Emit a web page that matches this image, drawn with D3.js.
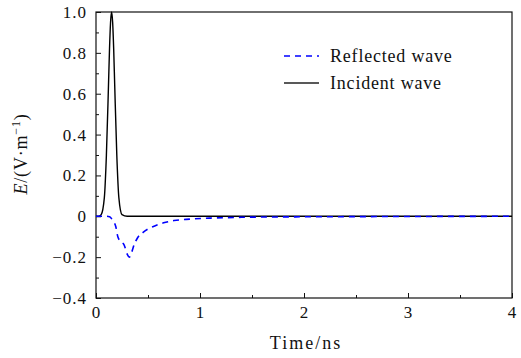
<!DOCTYPE html>
<html>
<head>
<meta charset="utf-8">
<script src="https://cdn.jsdelivr.net/npm/d3@7"></script>
<style>
	body { margin: 0; background: #fff; }
</style>
</head>
<body>
<svg id="plot" width="521" height="358"></svg>
<script>
// values
const INCIDENT_T = [0, 0.03, 0.05, 0.08, 0.1, 0.12, 0.13, 0.14, 0.15, 0.16, 0.17, 0.18, 0.2, 0.22, 0.25, 0.3, 4];
const INCIDENT_E = [0, 0.001, 0.008, 0.09, 0.3, 0.64, 0.82, 0.95, 1.0, 0.95, 0.82, 0.64, 0.3, 0.09, 0.008, 0, 0];

const REFLECTED_T = [0, 0.1, 0.13, 0.16, 0.19, 0.21, 0.24, 0.27, 0.3, 0.32, 0.34, 0.37, 0.4, 0.45, 0.5, 0.57, 0.65, 0.75, 0.9, 1.1, 1.4, 1.8, 2.3, 3, 4];
const REFLECTED_E = [0, 0, -0.002, -0.02, -0.05, -0.1, -0.125, -0.14, -0.185, -0.2, -0.18, -0.135, -0.105, -0.08, -0.062, -0.046, -0.032, -0.021, -0.014, -0.009, -0.005, -0.003, -0.002, -0.001, 0];

const X_TICKS = [0, 1, 2, 3, 4];
const X_MINOR = [0.5, 1.5, 2.5, 3.5];
const Y_TICKS = [-0.4, -0.2, 0, 0.2, 0.4, 0.6, 0.8, 1.0];
const Y_MINOR = [-0.3, -0.1, 0.1, 0.3, 0.5, 0.7, 0.9];
const LEGEND = ['Reflected wave', 'Incident wave'];

const FONT = 'Liberation Serif, Times New Roman, Times, DejaVu Serif, serif';

const margin = { top: 12, right: 9, bottom: 60, left: 96 };
const W = 521, H = 358;
const w = W - margin.left - margin.right;
const h = H - margin.top - margin.bottom;

const svg = d3.select('#plot');
const g = svg.append('g').attr('transform', `translate(${margin.left},${margin.top})`);

const x = d3.scaleLinear().domain([0, 4]).range([0, w]);
const y = d3.scaleLinear().domain([-0.4, 1.0]).range([h, 0]);

function fmtY(v) {
	if (Math.abs(v) < 1e-9) return '0';
	return (v < 0 ? '\u2212' : '') + Math.abs(v).toFixed(1);
}

// axes with inward ticks
g.append('g').attr('transform', `translate(0,${h})`)
	.call(d3.axisBottom(x).tickValues(X_TICKS).tickSize(-5).tickPadding(8).tickFormat(d3.format('d')));
g.append('g').attr('transform', `translate(0,${h})`)
	.call(d3.axisBottom(x).tickValues(X_MINOR).tickSize(-3).tickFormat(''));
g.append('g')
	.call(d3.axisLeft(y).tickValues(Y_TICKS).tickSize(-5).tickPadding(9).tickFormat(fmtY));
g.append('g')
	.call(d3.axisLeft(y).tickValues(Y_MINOR).tickSize(-3).tickFormat(''));

g.selectAll('.domain').remove();
g.selectAll('g').attr('font-family', null);
g.selectAll('.tick line').attr('stroke', '#111');
g.selectAll('.tick text')
	.attr('font-family', FONT).attr('font-size', 17).style('letter-spacing', '1px')
	.attr('fill', '#111');

// frame
g.append('rect')
	.attr('x', 0).attr('y', 0).attr('width', w).attr('height', h)
	.attr('fill', 'none').attr('stroke', '#111').attr('stroke-width', 1.2);

const line = d3.line()
	.x(d => x(d[0]))
	.y(d => y(d[1]))
	.curve(d3.curveMonotoneX);

const incident = INCIDENT_T.map((t, i) => [t, INCIDENT_E[i]]);
const reflected = REFLECTED_T.map((t, i) => [t, REFLECTED_E[i]]);

g.append('path').datum(incident)
	.attr('d', line).attr('fill', 'none')
	.attr('stroke', '#000').attr('stroke-width', 1.4);

g.append('path').datum(reflected)
	.attr('d', line).attr('fill', 'none')
	.attr('stroke', '#0000ff').attr('stroke-width', 1.6)
	.attr('stroke-dasharray', '6,5');

// legend
const leg = svg.append('g').attr('transform', 'translate(284,56)');
leg.append('line').attr('x1', 0).attr('x2', 35).attr('y1', 0).attr('y2', 0)
	.attr('stroke', '#0000ff').attr('stroke-width', 1.6).attr('stroke-dasharray', '6,5');
leg.append('line').attr('x1', 0).attr('x2', 35).attr('y1', 27).attr('y2', 27)
	.attr('stroke', '#222').attr('stroke-width', 1.4);
leg.selectAll('text.lab').data(LEGEND).enter().append('text')
	.attr('class', 'lab')
	.attr('x', 46).attr('y', (d, i) => i * 27 + 5.5)
	.attr('font-family', FONT).attr('font-size', 18).style('letter-spacing', '0.8px')
	.attr('fill', '#111')
	.text(d => d);

// axis titles
svg.append('text')
	.attr('x', 306).attr('y', 349)
	.attr('text-anchor', 'middle')
	.attr('font-family', FONT).attr('font-size', 18).style('letter-spacing', '2px')
	.attr('fill', '#111')
	.text('Time/ns');

const yt = svg.append('text')
	.attr('transform', 'translate(27,154) rotate(-90)')
	.attr('text-anchor', 'middle')
	.attr('font-family', FONT).attr('font-size', 18).style('letter-spacing', '0.8px')
	.attr('fill', '#111');
yt.append('tspan').attr('font-style', 'italic').text('E');
yt.append('tspan').text('/(V\u00b7m');
yt.append('tspan').attr('dy', -7).attr('font-size', 12).text('\u22121');
yt.append('tspan').attr('dy', 7).text(')');
</script>
</body>
</html>
